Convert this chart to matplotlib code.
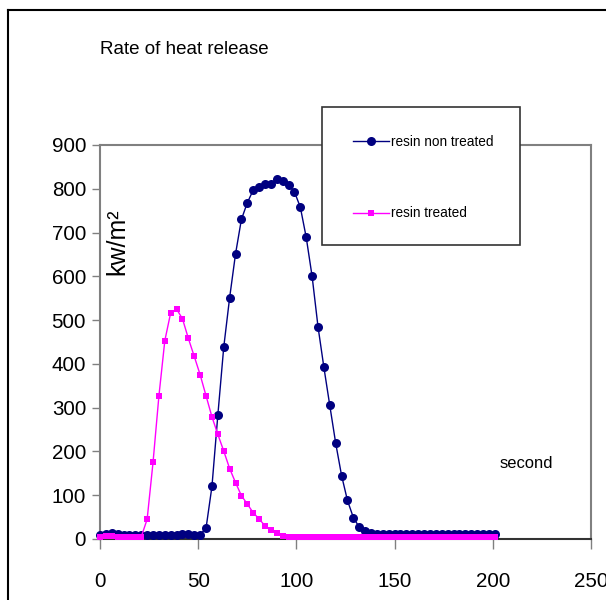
import matplotlib
matplotlib.use("Agg")
import matplotlib.pyplot as plt
from matplotlib import font_manager
from matplotlib.patches import Rectangle
from matplotlib.lines import Line2D

# ── データ（3秒間隔） ──────────────────────────────
seconds = list(range(0, 202, 3))

non_treated = [
    10, 12, 14, 12, 10, 10, 10, 8, 8, 8, 10, 10, 10, 10, 12, 12, 10, 10,   # 0-51
    25, 120, 283, 438, 551, 651, 730, 768, 797, 805, 812, 811, 822, 818,   # 54-93
    809, 793, 758, 689, 600, 485, 392, 305, 219, 145, 88, 49, 27, 19, 14,  # 96-138
    12, 12, 12, 12, 12, 12, 12, 12, 12, 12, 12, 12, 12, 12, 12, 12, 12,    # 141-189
    12, 12, 12, 12,                                                        # 192-201
]

treated = [
    5, 6, 6, 5, 5, 4, 4, 5,                                               # 0-21
    45, 175, 327, 453, 517, 525, 503, 458, 417, 375, 327, 279, 239, 201,  # 24-63
    161, 129, 99, 80, 60, 46, 30, 21, 13, 7, 5, 5, 4, 4, 4, 4, 4, 4, 4,   # 66-120
    4, 5, 5, 5, 5, 5, 5, 5, 5, 5, 5, 5, 5, 5, 5, 5, 5, 5, 5, 5, 5, 5, 5,  # 123-189
    5, 5, 5, 5,                                                           # 192-201
]

series_labels = ["resin non treated", "resin treated"]
x_ticks = [0, 50, 100, 150, 200, 250]
y_ticks = list(range(0, 901, 100))

# ── フォント（細字が無ければ通常体で縮小） ──────────
names = {f.name for f in font_manager.fontManager.ttflist}
if "Liberation Sans Narrow" in names:
    NARROW = ["Liberation Sans Narrow", "DejaVu Sans"]
    k = 1.0
else:
    NARROW = ["Liberation Sans", "DejaVu Sans"]
    k = 0.82
REGULAR = ["Liberation Sans", "DejaVu Sans"]
plt.rcParams["font.family"] = NARROW

W, H = 606, 600
fig = plt.figure(figsize=(W / 100, H / 100), dpi=100)


def px(x, y):
    """ピクセル座標（左上原点）を figure 座標に変換する。"""
    return x / W, 1 - y / H


# 外枠（右と下ははみ出し）
fig.add_artist(Line2D([8 / W, 8 / W], [0, 1 - 10 / H], color="black", lw=1.5))
fig.add_artist(Line2D([8 / W, 1], [1 - 10 / H, 1 - 10 / H], color="black", lw=1.5))

left, top, right, bottom = 100, 145, 591, 539
ax = fig.add_axes([left / W, 1 - bottom / H, (right - left) / W, (bottom - top) / H])

ax.plot(seconds, non_treated, color="#000080", lw=1, marker="o", ms=6.5,
        markeredgewidth=0, label=series_labels[0], clip_on=False, zorder=3)
ax.plot(seconds, treated, color="#FF00FF", lw=1, marker="s", ms=5,
        markeredgewidth=0, label=series_labels[1], clip_on=False, zorder=4)

ax.set_xlim(0, 250)
ax.set_ylim(0, 900)
ax.set_xticks(x_ticks)
ax.set_yticks(y_ticks)
ax.tick_params(axis="y", direction="out", length=6, width=1, color="#808080",
               labelsize=18 * k, pad=4)
ax.tick_params(axis="x", direction="out", length=7, width=1, color="#808080",
               labelsize=18 * k, pad=17)
for s in ["left", "top", "right"]:
    ax.spines[s].set_color("#808080")
    ax.spines[s].set_linewidth(1.5)
ax.spines["bottom"].set_color("#333333")
ax.spines["bottom"].set_linewidth(1.5)

# テキスト
fig.text(*px(100, 50), "Rate of heat release", fontsize=16.5 * k, ha="left", va="center")
fig.text(*px(500, 463), "second", fontsize=14.5 * k, ha="left", va="center")
fig.text(*px(117, 242), "kw/m²", fontsize=18, family=REGULAR, rotation=90,
         ha="center", va="center")

# 凡例枠
fig.add_artist(Rectangle(px(322, 245), 198 / W, 138 / H, facecolor="white",
                         edgecolor="#333333", lw=1.2, zorder=4))
handles, labels = ax.get_legend_handles_labels()
leg = fig.legend(handles, labels, loc="upper left", bbox_to_anchor=px(353, 135),
                 frameon=False, fontsize=12 * k, handlelength=2.6,
                 handletextpad=0.2, labelspacing=4.2, borderpad=0,
                 borderaxespad=0)
leg.set_zorder(5)

fig.savefig("out.png", dpi=100)
